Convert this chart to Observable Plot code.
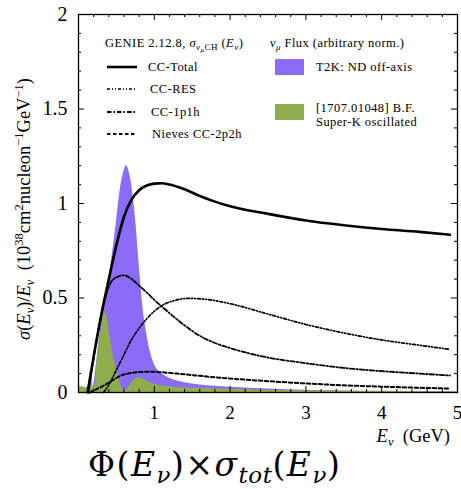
<!DOCTYPE html>
<html><head><meta charset="utf-8">
<script src="https://cdn.jsdelivr.net/npm/d3@7"></script>
<script src="https://cdn.jsdelivr.net/npm/@observablehq/plot@0.6"></script>
<style>
body{margin:0;background:#fff;}
#wrap{position:relative;width:461px;height:489px;}
#formula{position:absolute;left:88px;top:444px;font-family:"DejaVu Serif";font-size:33px;line-height:42px;white-space:nowrap;color:#000;letter-spacing:1.5px;}
#formula sub{font-size:23px;vertical-align:-7px;line-height:0;letter-spacing:0.5px;}
</style></head><body>
<div id="wrap"><div id="chart"></div>
<div id="formula">Φ(<i>E</i><sub><i>ν</i></sub>)×<i>σ</i><sub><i>tot</i></sub>(<i>E</i><sub><i>ν</i></sub>)</div></div>
<script>
// ---- data ----
const ccTotalE = [0.12,0.2,0.3,0.4,0.5,0.6,0.7,0.8,0.9,1.0,1.1,1.2,1.4,1.6,1.8,2.0,2.5,3.0,3.5,4.0,4.5,4.9];
const ccTotal  = [0,0.19,0.41,0.6,0.78,0.93,1.02,1.07,1.095,1.105,1.107,1.1,1.075,1.04,1.01,0.985,0.945,0.91,0.885,0.865,0.85,0.835];

const ccResE = [0.33,0.4,0.5,0.6,0.7,0.8,0.9,1.0,1.1,1.25,1.45,1.7,2.0,2.5,3.0,3.5,4.0,4.5,4.9];
const ccRes  = [0,0.04,0.12,0.2,0.28,0.34,0.39,0.43,0.46,0.485,0.498,0.492,0.47,0.415,0.36,0.315,0.278,0.25,0.228];

const cc1p1hE = [0.13,0.2,0.3,0.4,0.5,0.6,0.7,0.8,0.9,1.0,1.1,1.2,1.4,1.6,1.8,2.0,2.5,3.0,3.5,4.0,4.5,4.9];
const cc1p1h  = [0,0.18,0.41,0.56,0.61,0.62,0.6,0.565,0.53,0.49,0.455,0.42,0.355,0.3,0.262,0.235,0.185,0.155,0.13,0.113,0.1,0.09];

const nievesE = [0.15,0.25,0.35,0.45,0.55,0.65,0.8,0.95,1.1,1.3,1.6,2.0,2.5,3.0,3.5,4.0,4.5,4.9];
const nieves  = [0,0.02,0.04,0.065,0.088,0.1,0.108,0.11,0.107,0.1,0.088,0.074,0.06,0.048,0.038,0.031,0.025,0.021];

const t2kE = [0,0.15,0.2,0.25,0.3,0.35,0.4,0.45,0.5,0.55,0.6,0.63,0.66,0.7,0.75,0.8,0.85,0.9,0.95,1.0,1.1,1.2,1.4,1.6,1.8,2.0,2.5,3.0,3.5,4.0,4.5,5.0];
const t2k  = [0,0,0.04,0.2,0.37,0.5,0.6,0.74,0.9,1.07,1.17,1.2,1.18,1.1,0.93,0.68,0.45,0.31,0.21,0.15,0.1,0.075,0.052,0.04,0.033,0.028,0.018,0.012,0.008,0.006,0.004,0.003];

const skE = [0,0.05,0.1,0.13,0.16,0.18,0.2,0.22,0.26,0.3,0.34,0.37,0.41,0.47,0.54,0.6,0.65,0.7,0.79,0.86,0.93,1.05,1.3,1.6,2.0,2.5,3.0,3.5,4.0,4.5,5.0];
const sk  = [0.03,0.03,0.025,0.04,0.12,0.08,0.0,0.05,0.22,0.33,0.42,0.41,0.31,0.17,0.063,0.01,0.02,0.05,0.08,0.07,0.053,0.04,0.027,0.022,0.017,0.012,0.009,0.007,0.005,0.004,0.003];

const xTicks = [1,2,3,4,5];
const yTicks = [0,0.5,1,1.5,2];
const xMinor = d3.range(0.2,5,0.2).map(v=>+v.toFixed(1)).filter(v=>!Number.isInteger(v));
const yMinor = d3.range(0.1,2,0.1).map(v=>+v.toFixed(1)).filter(v=>Math.round(v*10)%5!==0);
const xMajorIn = [1,2,3,4];
const yMajorIn = [0.5,1,1.5];

const dashRes = "3,2,1,2,1,2";
const dash1p1h = "4.5,2,1.5,2";
const dash2p2h = "3.5,2.5";

const zip = (xs, ys) => xs.map((x,i)=>({e:x, v:ys[i]}));

const W=461, H=450;
const chart = Plot.plot({
  width: W, height: H,
  marginLeft: 78, marginRight: 4, marginTop: 14, marginBottom: 58,
  style: {fontFamily: "Liberation Serif", fontSize: "18px", color: "#000", background: "#fff"},
  x: {domain: [0,5]},
  y: {domain: [0,2]},
  marks: [
    Plot.areaY(zip(t2kE,t2k), {x:"e", y:"v", fill:"#8a6cf7", curve:"monotone-x"}),
    Plot.areaY(zip(skE,sk), {x:"e", y:"v", fill:"#8fae4b", curve:"monotone-x"}),
    Plot.line(zip(nievesE,nieves), {x:"e", y:"v", stroke:"#000", strokeWidth:2, strokeDasharray:dash2p2h, curve:"monotone-x"}),
    Plot.line(zip(ccResE,ccRes), {x:"e", y:"v", stroke:"#000", strokeWidth:1.7, strokeDasharray:dashRes, curve:"monotone-x"}),
    Plot.line(zip(cc1p1hE,cc1p1h), {x:"e", y:"v", stroke:"#000", strokeWidth:1.8, strokeDasharray:dash1p1h, curve:"monotone-x"}),
    Plot.line(zip(ccTotalE,ccTotal), {x:"e", y:"v", stroke:"#000", strokeWidth:2.6, curve:"monotone-x"}),
    // inward ticks
    Plot.ruleX(xMajorIn, {x:d=>d, y1:0, y2:0.032, stroke:"#000", strokeWidth:1}),
    Plot.ruleX(xMinor, {x:d=>d, y1:0, y2:0.016, stroke:"#000", strokeWidth:1}),
    Plot.ruleX(xMajorIn, {x:d=>d, y1:2, y2:1.968, stroke:"#000", strokeWidth:1}),
    Plot.ruleX(xMinor, {x:d=>d, y1:2, y2:1.984, stroke:"#000", strokeWidth:1}),
    Plot.ruleY(yMajorIn, {y:d=>d, x1:0, x2:0.08, stroke:"#000", strokeWidth:1}),
    Plot.ruleY(yMinor, {y:d=>d, x1:0, x2:0.04, stroke:"#000", strokeWidth:1}),
    Plot.ruleY(yMajorIn, {y:d=>d, x1:5, x2:4.92, stroke:"#000", strokeWidth:1}),
    Plot.ruleY(yMinor, {y:d=>d, x1:5, x2:4.96, stroke:"#000", strokeWidth:1}),
    Plot.frame({stroke:"#000", strokeWidth:1.3}),
    Plot.axisX(xTicks, {tickSize:0, tickPadding:13, label:null, fontSize:19}),
    Plot.axisY(yTicks, {tickSize:0, tickPadding:11, label:null, fontSize:20, tickFormat:d=>String(d)})
  ]
});
document.getElementById("chart").appendChild(chart);

// ---- rich text helpers ----
const svg = d3.select(chart);
function rich(sel, parts, baseSize){
  let cur = 0;
  parts.forEach(p=>{
    const off = p.shift || 0;
    const ts = sel.append("tspan").text(p.t)
      .attr("font-size", p.size || baseSize)
      .attr("dy", off - cur);
    if (p.i) ts.attr("font-style","italic");
    cur = off;
  });
  if (cur !== 0) sel.append("tspan").text("\u200b").attr("dy", -cur);
}

// y label
const yl = svg.append("text")
  .attr("transform","translate(30,209) rotate(-90)")
  .attr("text-anchor","middle").attr("font-family","Liberation Serif").attr("font-size",18.5).attr("fill","#000");
rich(yl, [
  {t:"σ", i:true},{t:"(",},{t:"E",i:true},{t:"ν",i:true,size:12.5,shift:4},{t:")/"},
  {t:"E",i:true},{t:"ν",i:true,size:12.5,shift:4},{t:"  (10"},{t:"38",size:12.5,shift:-7},
  {t:"cm"},{t:"2",size:12.5,shift:-7},{t:"nucleon"},{t:"−1",size:12.5,shift:-7},{t:"GeV"},{t:"−1",size:12.5,shift:-7},{t:")"}
], 18.5);

// x label
const xl = svg.append("text").attr("x",450).attr("y",442).attr("text-anchor","end")
  .attr("font-family","Liberation Serif").attr("font-size",18.5).attr("fill","#000");
rich(xl, [{t:"E",i:true},{t:"ν",i:true,size:12.5,shift:4},{t:"  (GeV)"}], 18.5);

// legend
const lg = svg.append("g").attr("font-family","Liberation Serif").attr("font-size",12.5).attr("fill","#000")
  .attr("text-anchor","start").attr("letter-spacing","0.45");
const h1 = lg.append("text").attr("x",105).attr("y",47);
rich(h1, [{t:"GENIE 2.12.8, "},{t:"σ",i:true},{t:"ν",i:true,size:9,shift:3},{t:"μ",i:true,size:7,shift:5},{t:"CH",size:9,shift:3},{t:" (",shift:0},{t:"E",i:true},{t:"ν",i:true,size:9,shift:3},{t:")"}], 12.5);
const h2 = lg.append("text").attr("x",270).attr("y",47);
rich(h2, [{t:"ν",i:true},{t:"μ",i:true,size:9,shift:3},{t:" Flux (arbitrary norm.)"}], 12.5);

const lineItems = [
  {label:"CC-Total", y:67, w:2.6, dash:null, tx:148},
  {label:"CC-RES", y:89, w:1.7, dash:dashRes, tx:150},
  {label:"CC-1p1h", y:112, w:1.8, dash:dash1p1h, tx:151},
  {label:"Nieves CC-2p2h", y:134, w:2, dash:dash2p2h, tx:152}
];
lineItems.forEach(d=>{
  const l = lg.append("line").attr("x1",107).attr("x2",137).attr("y1",d.y).attr("y2",d.y)
    .attr("stroke","#000").attr("stroke-width",d.w);
  if (d.dash) l.attr("stroke-dasharray", d.dash);
  lg.append("text").attr("x",d.tx).attr("y",d.y+4).text(d.label);
});
lg.append("rect").attr("x",275).attr("y",59).attr("width",29).attr("height",16).attr("fill","#8a6cf7");
lg.append("text").attr("x",316).attr("y",71).text("T2K: ND off-axis");
lg.append("rect").attr("x",275).attr("y",104).attr("width",29).attr("height",16).attr("fill","#8fae4b");
lg.append("text").attr("x",316).attr("y",112).text("[1707.01048] B.F.");
lg.append("text").attr("x",316).attr("y",126).text("Super-K oscillated");
</script>
</body></html>
